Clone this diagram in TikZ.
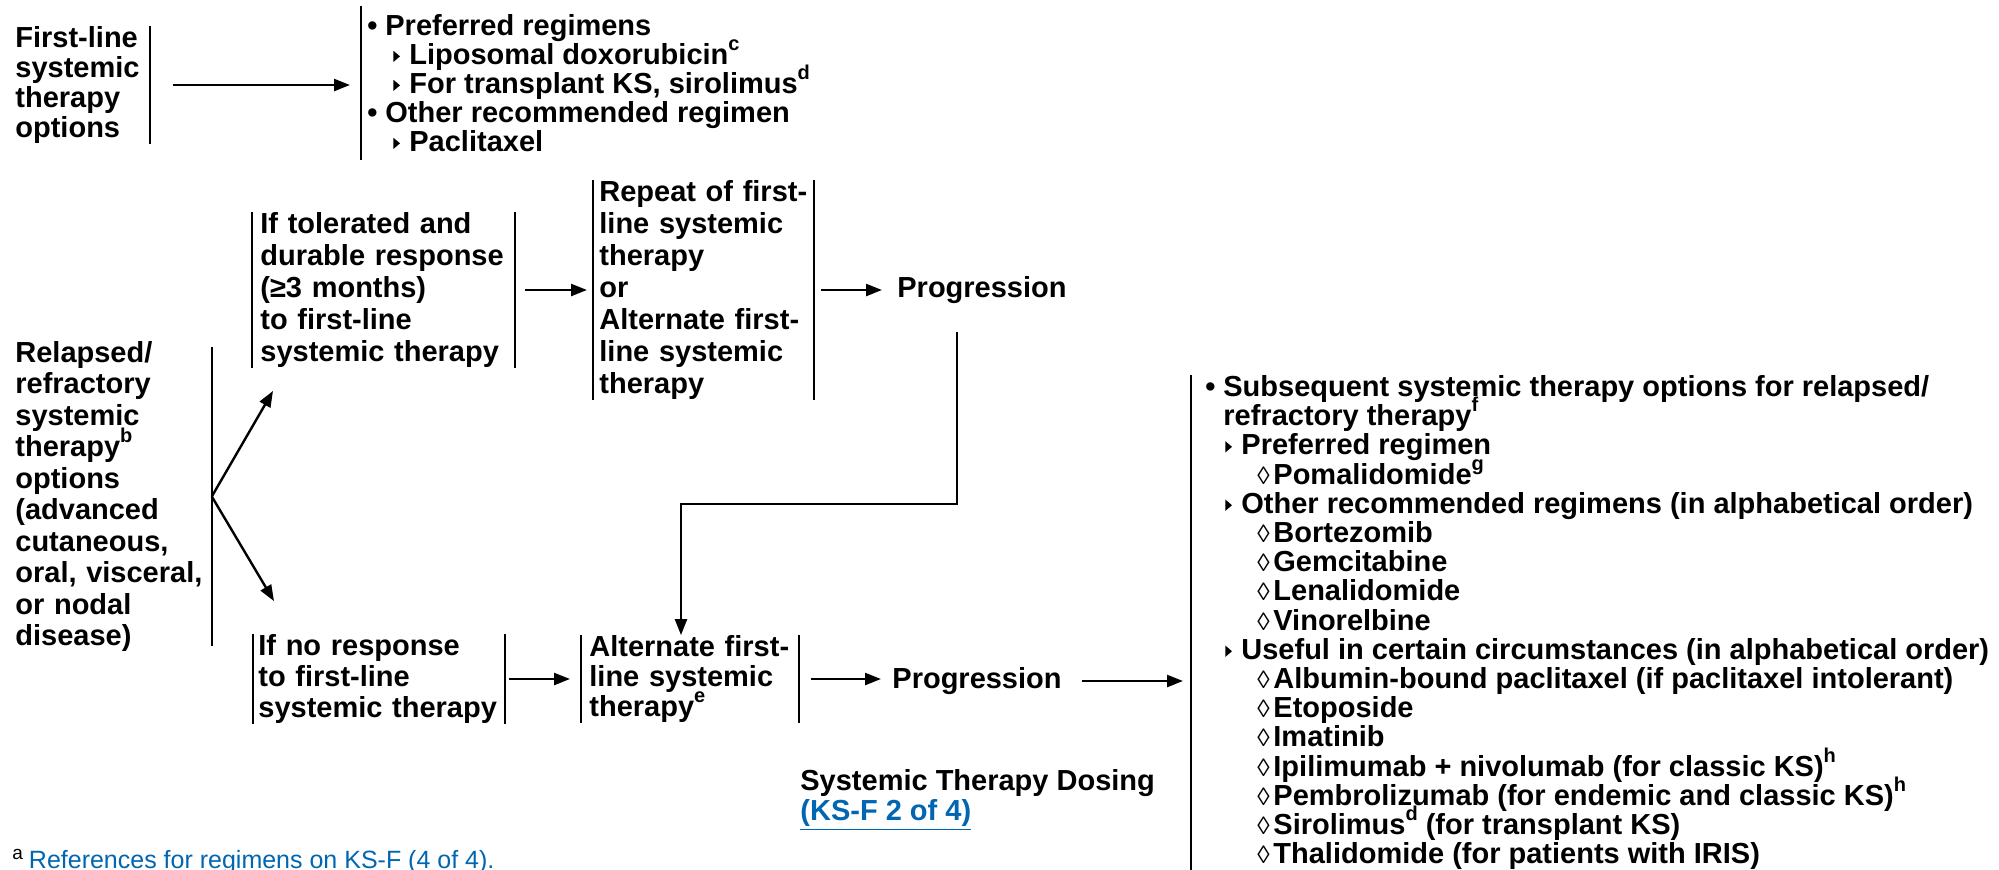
\documentclass[tikz,border=0pt]{standalone}
\usepackage{fontspec}
\setmainfont{Liberation Sans}
\usepackage{tikz}
\usetikzlibrary{arrows.meta}
\definecolor{linkblue}{RGB}{0,102,178}
\newcommand{\sups}[1]{\smash{\raisebox{0.48em}{\fontsize{10}{10}\selectfont #1}}}
\newcommand{\bul}{\makebox[9pt][l]{\textbullet}}
\newcommand{\tri}{\makebox[8pt][l]{\tikz[x=1pt,y=1pt,baseline=0pt]\fill (0.3,1.2) -- (0.3,6.8) -- (3.6,4) -- cycle;}}
\newcommand{\loz}{\makebox[8pt][l]{\mdseries\fontsize{12.5}{12.5}\selectfont ◊}}
\newcommand{\tritem}{\hspace*{10pt}\tri}
\newcommand{\lzitem}{\hspace*{26pt}\loz}
\tikzstyle{bar}=[line width=1pt]

\begin{document}
\begin{tikzpicture}[x=0.5pt, y=-0.5pt,
  txt/.style={font=\fontsize{14.5}{#1}\selectfont\bfseries, inner sep=0pt, align=left},
  txt/.default=16pt,
  arr/.style={line width=1.2pt, -{Triangle[length=8pt,width=6pt]}}]
  \useasboundingbox (0,0) rectangle (1999,869);
  \draw (15,85) node[txt=15pt, anchor=west, text width=67pt, minimum height=58pt] (fl) {First-line\\systemic\\therapy\\options};
  \draw (361,83) node[txt=14.5pt, anchor=west, inner xsep=3pt, minimum height=76.5pt] (tl) {\bul Preferred regimens\\
    \hspace*{13pt}\tri Liposomal doxorubicin\sups{c}\\
    \hspace*{13pt}\tri For transplant KS, sirolimus\sups{d}\\
    \bul Other recommended regimen\\
    \hspace*{13pt}\tri Paclitaxel};
  \draw (252,290) node[txt, anchor=west, inner xsep=4pt, text width=123pt, minimum height=77pt] (tol) {If tolerated and\\durable response\\(≥3 months)\\to first-line\\systemic therapy};
  \draw (593,290) node[txt, anchor=west, inner xsep=3pt, text width=104pt, minimum height=109pt] (rep) {Repeat of first-\\line systemic\\therapy\\or\\Alternate first-\\line systemic\\therapy};
  \draw (897,290) node[txt, anchor=west] (prog1) {Progression};
  \draw (15,496.5) node[txt=15.75pt, anchor=west, inner ysep=-3pt, text width=98pt, minimum height=148.5pt] (rel) {Relapsed/\\refractory\\systemic\\therapy\sups{b}\\options\\(advanced\\cutaneous,\\oral, visceral,\\or nodal\\disease)};
  \draw (253,679) node[txt=15.5pt, anchor=west, inner xsep=2.5pt, text width=120.5pt, minimum height=43pt] (nor) {If no response\\to first-line\\systemic therapy};
  \draw (581,679) node[txt=15pt, anchor=west, inner xsep=4pt, text width=100.5pt, minimum height=43pt] (alt) {Alternate first-\\line systemic\\therapy\sups{e}};
  \draw (892,681) node[txt, anchor=west] (prog2) {Progression};
  \draw (1191,375) node[txt=14.6pt, anchor=north west, inner xsep=7pt] (rl) {\bul Subsequent systemic therapy options for relapsed/\\
    \hspace*{9pt}refractory therapy\sups{f}\\
    \tritem Preferred regimen\\
    \lzitem Pomalidomide\sups{g}\\
    \tritem Other recommended regimens (in alphabetical order)\\
    \lzitem Bortezomib\\
    \lzitem Gemcitabine\\
    \lzitem Lenalidomide\\
    \lzitem Vinorelbine\\
    \tritem Useful in certain circumstances (in alphabetical order)\\
    \lzitem Albumin-bound paclitaxel (if paclitaxel intolerant)\\
    \lzitem Etoposide\\
    \lzitem Imatinib\\
    \lzitem Ipilimumab + nivolumab (for classic KS)\sups{h}\\
    \lzitem Pembrolizumab (for endemic and classic KS)\sups{h}\\
    \lzitem Sirolimus\sups{d} (for transplant KS)\\
    \lzitem Thalidomide (for patients with IRIS)};
  \draw (800,800) node[txt=15pt, anchor=west] (dose) {Systemic Therapy Dosing\\{\color{linkblue}\underline{(KS-F 2 of 4)}}};
  \draw (12,868) node[anchor=base west, inner sep=0pt, font=\fontsize{12.5}{14}\selectfont] (fn) {\raisebox{0.35em}{\fontsize{9.5}{9.5}\selectfont a}\hspace{3pt}{\color{linkblue}References for regimens on KS-F (4 of 4).}};
  \coordinate (bend) at (681,504);

  \draw[bar] (fl.north east) -- (fl.south east);
  \draw[bar] (tl.north west) -- (tl.south west);
  \draw[bar] (tol.north west) -- (tol.south west) (tol.north east) -- (tol.south east);
  \draw[bar] (rep.north west) -- (rep.south west) (rep.north east) -- (rep.south east);
  \draw[bar] (rel.north east) -- (rel.south east);
  \draw[bar] (nor.north west) -- (nor.south west) (nor.north east) -- (nor.south east);
  \draw[bar] (alt.north west) -- (alt.south west) (alt.north east) -- (alt.south east);
  \draw[bar] (rl.north west) -- (rl.south west);

  \draw[arr, shorten <=11.5pt, shorten >=5.5pt] (fl.east) -- (fl.east -| tl.west);
  \draw[arr, shorten <=5pt, shorten >=3pt] (tol.east) -- (rep.west);
  \draw[arr, shorten <=3.5pt, shorten >=7.5pt] (rep.east) -- (rep.east -| prog1.west);
  \draw[arr] (rel.east) -- ([xshift=10.5pt,yshift=-11.5pt]tol.south west);
  \draw[arr] (rel.east) -- ([xshift=10.5pt,yshift=16.5pt]nor.north west);
  \draw[arr, shorten <=2pt, shorten >=5.5pt] (nor.east) -- (alt.west);
  \draw[arr, shorten <=6pt, shorten >=5.5pt] (alt.east) -- (alt.east -| prog2.west);
  \draw[arr, shorten <=10pt, shorten >=4pt] (prog2.east) -- (prog2.east -| rl.west);
  \draw[arr] ([xshift=-12.5pt,yshift=-14pt]prog1.south) |- (bend) -- (bend |- alt.north);
\end{tikzpicture}
\end{document}
